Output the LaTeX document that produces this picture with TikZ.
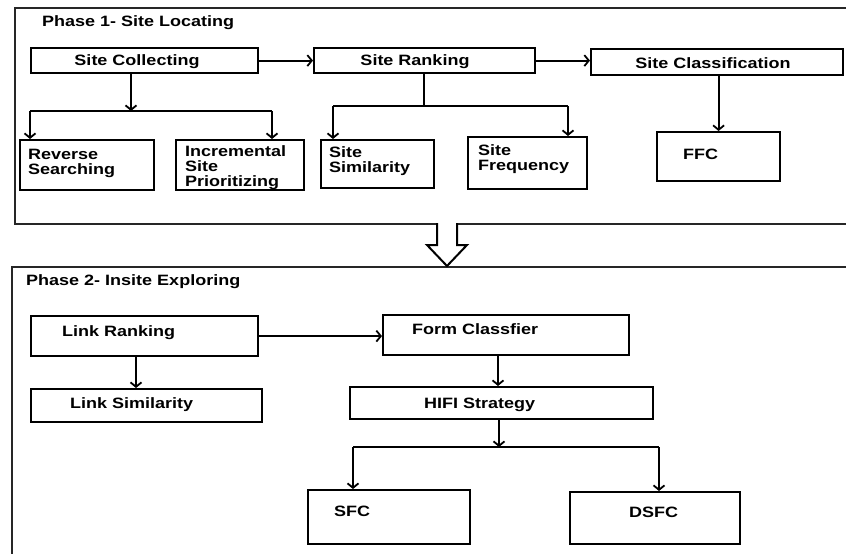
\documentclass[tikz,border=0pt]{standalone}
\usepackage{fontspec}
\setmainfont{Liberation Sans}[FakeStretch=1.2]
\usetikzlibrary{arrows.meta}
\begin{document}
\begin{tikzpicture}[x=1pt,y=-1pt,
  box/.style={draw=black,line width=2.2pt,fill=white,inner sep=0pt,anchor=north west},
  txt/.style={anchor=base west,inner sep=0pt,font=\fontsize{15}{15}\selectfont\bfseries,align=left},
  conn/.style={line width=2pt},
  arr/.style={conn,-{Straight Barb[length=4.5pt,width=11pt,line width=1.8pt]}},
  frame/.style={draw=black!85,line width=2.2pt,inner sep=0pt,anchor=north west}]
\useasboundingbox (0,0) rectangle (846,554);
\fill[white] (0,0) rectangle (846,554);
% frames
\node[frame,minimum width=850pt,minimum height=216pt] (ph1) at (14,7) {};
\node[frame,minimum width=850pt,minimum height=310pt] (ph2) at (11,266) {};
% block arrow
\draw[line width=2pt,fill=white] (437,223) -- (437,245) -- (427,245) -- (447,266) -- (467,245) -- (457,245) -- (457,223);
% Phase 1
\node[txt] (t1) at (42,27) {Phase 1- Site Locating};
\node[box,minimum width=227pt,minimum height=25pt] (sc) at (30,47) {};
\node[txt,anchor=base] (scT) at (137,65) {Site Collecting};
\node[box,minimum width=221pt,minimum height=25pt] (sr) at (313,47) {};
\node[txt,anchor=base] (srT) at (415,65) {Site Ranking};
\node[box,minimum width=252pt,minimum height=26pt] (scl) at (590,48) {};
\node[txt,anchor=base] (sclT) at (713,68) {Site Classification};
\node[box,minimum width=134pt,minimum height=50pt] (rs) at (19,139) {};
\node[txt] (rsT) at (28,174) {Reverse\\Searching};
\node[box,minimum width=128pt,minimum height=50pt] (isp) at (175,139) {};
\node[txt] (ispT) at (185,186) {Incremental\\Site\\Prioritizing};
\node[box,minimum width=113pt,minimum height=48pt] (ss) at (320,139) {};
\node[txt] (ssT) at (329,172) {Site\\Similarity};
\node[box,minimum width=119pt,minimum height=52pt] (sf) at (467,136) {};
\node[txt] (sfT) at (478,170) {Site\\Frequency};
\node[box,minimum width=123pt,minimum height=49pt] (ffc) at (656,131) {};
\node[txt] (ffcT) at (683,159) {FFC};
% Phase 2
\node[txt] (t2) at (26,285) {Phase 2- Insite Exploring};
\node[box,minimum width=227pt,minimum height=40pt] (lr) at (30,315) {};
\node[txt] (lrT) at (62,336) {Link Ranking};
\node[box,minimum width=246pt,minimum height=40pt] (fc) at (382,314) {};
\node[txt] (fcT) at (412,334) {Form Classfier};
\node[box,minimum width=231pt,minimum height=33pt] (ls) at (30,388) {};
\node[txt] (lsT) at (70,408) {Link Similarity};
\node[box,minimum width=303pt,minimum height=32pt] (hifi) at (349,386) {};
\node[txt] (hifiT) at (424,408) {HIFI Strategy};
\node[box,minimum width=162pt,minimum height=54pt] (sfc) at (307,489) {};
\node[txt] (sfcT) at (334,516) {SFC};
\node[box,minimum width=170pt,minimum height=52pt] (dsfc) at (569,491) {};
\node[txt] (dsfcT) at (629,517) {DSFC};
% Phase 1 connectors
\draw[arr] (sc.east) -- (sr.west);
\draw[arr] (sr.east) -- (sr.east -| scl.west);
\coordinate (ja) at (131,111);
\coordinate (jal) at (30,111);
\coordinate (jar) at (272,111);
\draw[arr] (sc.south -| ja) -- (ja);
\draw[conn] (jal) -- (jar);
\draw[arr] (jal) -- (rs.north -| jal);
\draw[arr] (jar) -- (isp.north -| jar);
\coordinate (jb) at (424,106);
\coordinate (jbl) at (333,106);
\coordinate (jbr) at (568,106);
\draw[conn] (sr.south -| jb) -- (jb);
\draw[conn] (jbl) -- (jbr);
\draw[arr] (jbl) -- (ss.north -| jbl);
\draw[arr] (jbr) -- (sf.north -| jbr);
\draw[arr] (scl.south -| ffc.north) -- (ffc.north);
% Phase 2 connectors
\draw[arr] (lr.east) -- (lr.east -| fc.west);
\coordinate (lx) at (136,0);
\draw[arr] (lr.south -| lx) -- (ls.north -| lx);
\coordinate (fx) at (498,0);
\draw[arr] (fc.south -| fx) -- (hifi.north -| fx);
\coordinate (jc) at (499,447);
\coordinate (jcl) at (353,447);
\coordinate (jcr) at (659,447);
\draw[arr] (hifi.south -| jc) -- (jc);
\draw[conn] (jcl) -- (jcr);
\draw[arr] (jcl) -- (sfc.north -| jcl);
\draw[arr] (jcr) -- (dsfc.north -| jcr);
\end{tikzpicture}
\end{document}
